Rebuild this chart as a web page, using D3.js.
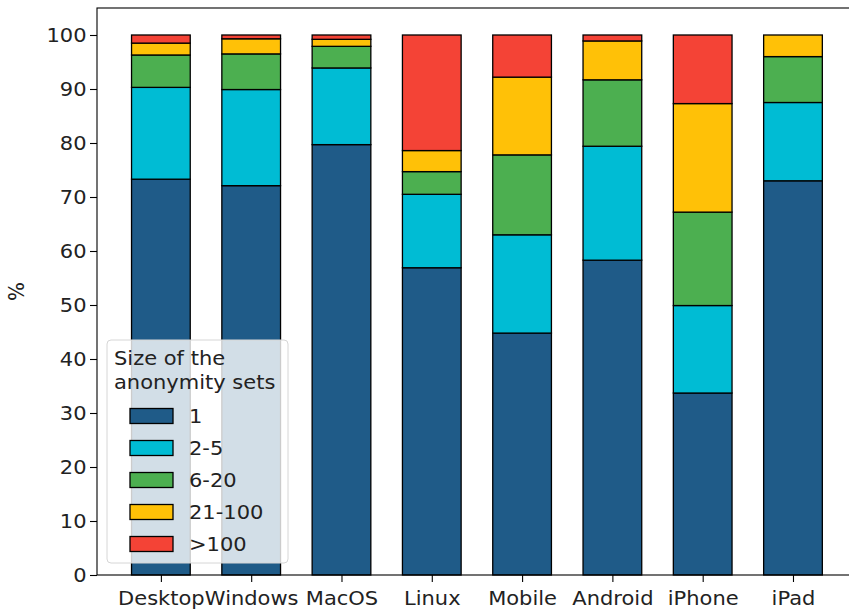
<!DOCTYPE html>
<html>
<head>
<meta charset="utf-8">
<script src="https://cdn.jsdelivr.net/npm/d3@7"></script>
<style>
  html, body { margin: 0; padding: 0; background: #fff; }
  svg { display: block; font-family: "DejaVu Sans", sans-serif; }
</style>
</head>
<body>
<svg id="chart" width="849" height="611"></svg>
<script>
// Platforms along the x axis
const categories = ["Desktop", "Windows", "MacOS", "Linux", "Mobile", "Android", "iPhone", "iPad"];

// Share (%) of users per anonymity-set size, one array per size bucket
const set1      = [73.3, 72.1, 79.7, 56.9, 44.8, 58.3, 33.7, 73.0];
const set2to5   = [17.0, 17.8, 14.2, 13.6, 18.2, 21.1, 16.2, 14.5];
const set6to20  = [ 6.0,  6.6,  4.0,  4.2, 14.8, 12.3, 17.3,  8.5];
const set21to100= [ 2.2,  2.8,  1.3,  3.9, 14.4,  7.2, 20.1,  4.0];
const setOver100= [ 1.5,  0.7,  0.8, 21.4,  7.8,  1.1, 12.7,  0.0];

const seriesNames  = ["1", "2-5", "6-20", "21-100", ">100"];
const seriesValues = [set1, set2to5, set6to20, set21to100, setOver100];
const seriesColors = ["#1f5b88", "#00bcd4", "#4caf50", "#ffc107", "#f44336"];

const yTicks = [0, 10, 20, 30, 40, 50, 60, 70, 80, 90, 100];

const svg = d3.select("#chart");
const fontSize = 20;
const textStretch = 1.05;   // glyphs are drawn slightly wide

// Axes box (the right edge runs past the visible area)
const plotLeft = 97, plotTop = 8, plotBottom = 575;
const barWidth = 0.65;
const unit = 90.3;
const xMin = -barWidth / 2 - 0.05 * (categories.length - 1 + barWidth);
const xMax = categories.length - 1 + barWidth / 2 + 0.05 * (categories.length - 1 + barWidth);
const plotRight = plotLeft + (xMax - xMin) * unit;

const x = d3.scaleLinear().domain([xMin, xMax]).range([plotLeft, plotRight]);
const y = d3.scaleLinear().domain([0, 105]).range([plotBottom, plotTop]);

// Stack the buckets
const rows = categories.map((c, i) => {
  const r = { cat: c, idx: i };
  seriesNames.forEach((s, k) => r[s] = seriesValues[k][i]);
  return r;
});
const stacked = d3.stack().keys(seriesNames)(rows);

const g = svg.append("g");
stacked.forEach((layer, k) => {
  g.selectAll(null)
    .data(layer.filter(d => d[1] - d[0] > 0))
    .enter().append("rect")
    .attr("x", d => x(d.data.idx - barWidth / 2))
    .attr("width", d => x(d.data.idx + barWidth / 2) - x(d.data.idx - barWidth / 2))
    .attr("y", d => y(d[1]))
    .attr("height", d => y(d[0]) - y(d[1]))
    .attr("fill", seriesColors[k])
    .attr("stroke", "#000")
    .attr("stroke-width", 1.3);
});

// Y axis
const yAxis = d3.axisLeft(y).tickValues(yTicks).tickSize(7).tickPadding(3);
const yg = svg.append("g").attr("transform", `translate(${plotLeft},0)`).call(yAxis);
yg.select(".domain").remove();
yg.selectAll("line").attr("stroke", "#000").attr("stroke-width", 1.1);
yg.selectAll("text").attr("font-size", fontSize).attr("fill", "#222")
  .attr("font-family", "DejaVu Sans, sans-serif")
  .attr("transform", `scale(${textStretch},1)`);

// X axis
const xAxis = d3.axisBottom(x).tickValues(d3.range(categories.length))
  .tickFormat(i => categories[i]).tickSize(7).tickPadding(9);
const xg = svg.append("g").attr("transform", `translate(0,${plotBottom})`).call(xAxis);
xg.select(".domain").remove();
xg.selectAll("line").attr("stroke", "#000").attr("stroke-width", 1.1);
xg.selectAll(".tick text").each(function () {
  // keep each label centred on its tick while widening it
  d3.select(this).attr("font-size", fontSize).attr("fill", "#222")
    .attr("font-family", "DejaVu Sans, sans-serif")
    .attr("transform", `scale(${textStretch},1)`);
});

// Frame
svg.append("rect")
  .attr("x", plotLeft).attr("y", plotTop)
  .attr("width", plotRight - plotLeft).attr("height", plotBottom - plotTop)
  .attr("fill", "none").attr("stroke", "#000").attr("stroke-width", 1.1);

// Y label
svg.append("text")
  .attr("transform", `translate(24,${(plotTop + plotBottom) / 2}) rotate(-90) scale(1,${textStretch})`)
  .attr("text-anchor", "middle")
  .attr("font-size", fontSize).attr("fill", "#222")
  .text("%");

// Legend
function legendText(parent, tx, ty, str) {
  parent.append("text")
    .attr("transform", `translate(${tx},${ty}) scale(${textStretch},1)`)
    .attr("font-size", fontSize).attr("fill", "#222").text(str);
}
const lg = svg.append("g");
lg.append("rect")
  .attr("x", 107).attr("y", 340).attr("width", 181).attr("height", 223)
  .attr("rx", 4).attr("ry", 4)
  .attr("fill", "#fff").attr("fill-opacity", 0.8)
  .attr("stroke", "#d6d6d6").attr("stroke-width", 1);
legendText(lg, 114, 365, "Size of the");
legendText(lg, 114, 389, "anonymity sets");
seriesNames.forEach((s, k) => {
  const cy = 416 + k * 32;
  lg.append("rect")
    .attr("x", 130).attr("y", cy - 7.5).attr("width", 43).attr("height", 15)
    .attr("fill", seriesColors[k]).attr("stroke", "#000").attr("stroke-width", 1.3);
  legendText(lg, 189, cy + 7, s);
});
</script>
</body>
</html>
